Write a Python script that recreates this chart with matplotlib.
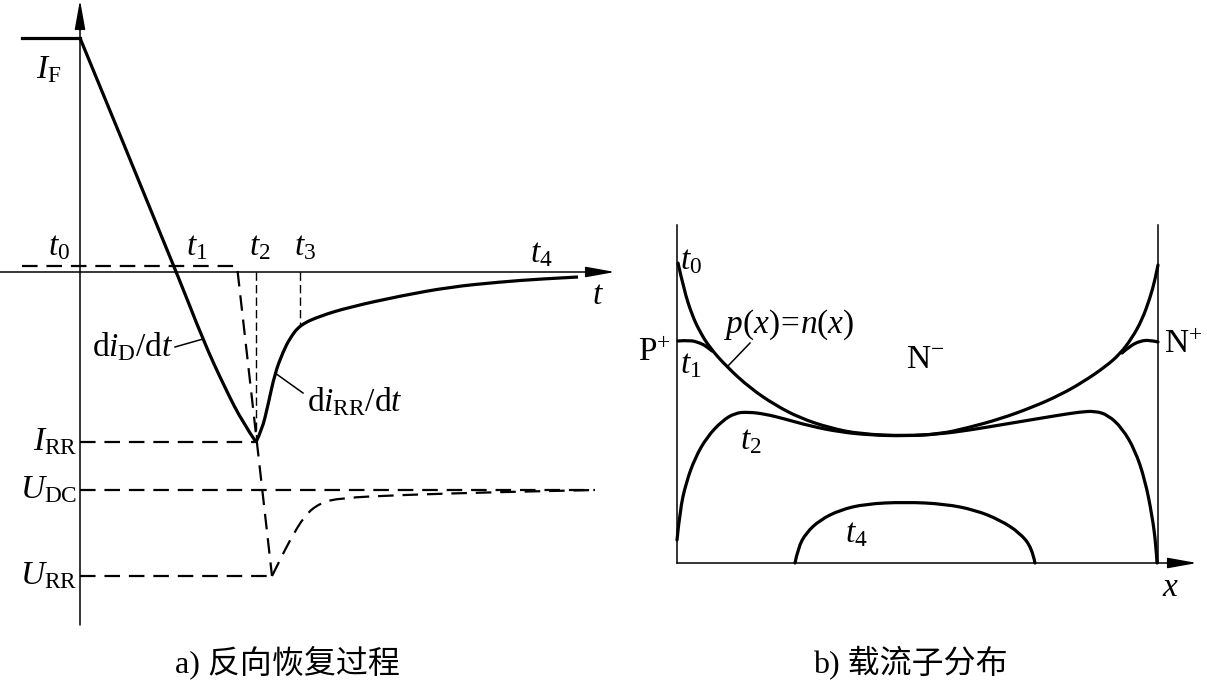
import numpy as np
import matplotlib.pyplot as plt
from matplotlib.path import Path
from matplotlib.patches import PathPatch

plt.rcParams['mathtext.fontset'] = 'custom'
plt.rcParams['mathtext.rm'] = 'Liberation Serif'
plt.rcParams['mathtext.it'] = 'Liberation Serif:italic'
plt.rcParams['font.family'] = ['Liberation Serif', 'Noto Sans CJK SC']

# ---- panel a) reverse recovery, picture pixel coords ----
i_fall_x = [80, 177, 203, 225, 243, 256]
i_fall_y = [38, 273, 340, 388, 423, 442]
i_rec_x = [256, 262, 268, 275, 283, 290, 300, 320, 350, 400, 450, 500, 540, 578]
i_rec_y = [442, 430, 405, 373, 352, 338, 325, 316, 307, 296, 287, 282, 279, 277]
i_f_x = [22, 80]
i_f_y = [38, 38]
u_x = [22, 237, 272, 280, 290, 305, 320, 340, 400, 500, 595]
u_y = [266, 266, 576, 560, 540, 515, 503, 498, 495, 492, 490]
ref_names = [r'$I_{\mathrm{RR}}$', r'$U_{\mathrm{DC}}$', r'$U_{\mathrm{RR}}$']
ref_y = [442, 490, 576]
ref_end = [256, 595, 272]
t_names = [r'$t_0$', r'$t_1$', r'$t_2$', r'$t_3$', r'$t_4$']
t_lx = [48, 186, 249, 294, 530]
t_ly = [247, 247, 247, 247, 254]
mark_x = [256, 300]
mark_y = [442, 325]

# ---- panel b) carrier distribution ----
p0_x = [678, 684, 692, 700, 710, 727, 750, 775, 800, 830, 860, 905, 940, 967,
        1000, 1033, 1060, 1083, 1105, 1120, 1132, 1142, 1150, 1155, 1158]
p0_y = [263, 290, 315, 332, 348, 367, 388, 405, 418, 428, 434, 436, 434, 428,
        419, 407, 395, 382, 367, 354, 338, 320, 298, 280, 265]
p1l_x = [678, 690, 700, 706, 712]
p1l_y = [341, 340, 343, 346, 351]
p1r_x = [1158, 1150, 1140, 1130, 1122]
p1r_y = [342, 340, 341, 346, 353]
p2_x = [677, 680, 686, 695, 707, 722, 735, 748, 765, 785, 810, 840, 870, 905,
        940, 970, 1000, 1030, 1060, 1080, 1095, 1108, 1122, 1135, 1145, 1152, 1156, 1157]
p2_y = [540, 510, 483, 458, 437, 421, 413, 412, 414, 419, 426, 432, 435, 436,
        434, 430, 425, 420, 415, 412, 411, 415, 428, 450, 480, 515, 545, 563]
p4_x = [795, 798, 806, 820, 840, 865, 905, 945, 975, 1000, 1020, 1032, 1035]
p4_y = [563, 548, 533, 520, 510, 504, 502, 504, 510, 520, 533, 548, 563]

fig = plt.figure(figsize=(12.07, 6.82), dpi=100)
ax = fig.add_axes([0, 0, 1, 1])
ax.set_xlim(0, 1207)
ax.set_ylim(682, 0)
ax.axis('off')

thick = 2.3
thin = 1.1
dash = dict(color='k', lw=1.6, dashes=(7, 4))
fs = 24
arrow = dict(arrowstyle='-|>,head_length=1.0,head_width=0.18', color='k',
             lw=thin, shrinkA=0, shrinkB=0, mutation_scale=18)


def smooth(xs, ys, **kw):
    # quadratic bezier through midpoints, read points act as control points
    pts = list(zip(xs, ys))
    verts = [pts[0]]
    codes = [Path.MOVETO]
    for i in range(1, len(pts) - 1):
        mid = ((pts[i][0] + pts[i + 1][0]) / 2, (pts[i][1] + pts[i + 1][1]) / 2)
        if i == len(pts) - 2:
            mid = pts[-1]
        verts += [pts[i], mid]
        codes += [Path.CURVE3, Path.CURVE3]
    if len(pts) == 2:
        verts.append(pts[1])
        codes.append(Path.LINETO)
    ax.add_patch(PathPatch(Path(verts, codes), fill=False, **kw))


# axes of panel a
ax.annotate('', xy=(80, 0), xytext=(80, 625), arrowprops=arrow)
ax.annotate('', xy=(615, 272), xytext=(0, 272), arrowprops=arrow)
ax.text(598, 296, r'$t$', fontsize=fs, ha='center', va='center')

ax.plot(i_f_x, i_f_y, color='k', lw=thick)
smooth(i_fall_x, i_fall_y, color='k', lw=thick, joinstyle='round')
smooth(i_rec_x, i_rec_y, color='k', lw=thick, joinstyle='round')
ax.plot(u_x[:3], u_y[:3], **dash)
smooth(u_x[2:], u_y[2:], color='k', lw=1.6, linestyle=(0, (7, 4)))
for name, y, x_end in zip(ref_names, ref_y, ref_end):
    ax.plot([80, x_end], [y, y], **dash)
    ax.text(77, y, name, fontsize=fs, ha='right', va='center')
for x, y in zip(mark_x, mark_y):
    ax.plot([x, x], [272, y], color='k', lw=1.0, dashes=(6, 3))
for name, x, y in zip(t_names, t_lx, t_ly):
    ax.text(x, y, name, fontsize=fs, ha='left', va='center')
ax.text(36, 70, r'$I_{\mathrm{F}}$', fontsize=fs, ha='left', va='center')

ax.plot([175, 203], [347, 339], color='k', lw=thin)
ax.text(174, 347, r'$\mathrm{d}i_{\mathrm{D}}/\mathrm{d}t$', fontsize=fs, ha='right', va='center')
ax.plot([275, 303], [373, 393], color='k', lw=thin)
ax.text(307, 402, r'$\mathrm{d}i_{\mathrm{RR}}/\mathrm{d}t$', fontsize=fs, ha='left', va='center')

# panel b
ax.plot([677, 677], [225, 563], color='k', lw=thin)
ax.plot([1158, 1158], [225, 563], color='k', lw=thin)
ax.annotate('', xy=(1197, 563), xytext=(677, 563), arrowprops=arrow)
ax.text(1170, 588, r'$x$', fontsize=fs, ha='center', va='center')
for xs, ys in [(p0_x, p0_y), (p1l_x, p1l_y), (p1r_x, p1r_y), (p2_x, p2_y), (p4_x, p4_y)]:
    smooth(xs, ys, color='k', lw=thick, joinstyle='round', capstyle='round')

ax.text(680, 261, r'$t_0$', fontsize=fs, ha='left', va='center')
ax.text(680, 365, r'$t_1$', fontsize=fs, ha='left', va='center')
ax.text(740, 441, r'$t_2$', fontsize=fs, ha='left', va='center')
ax.text(845, 534, r'$t_4$', fontsize=fs, ha='left', va='center')
ax.text(671, 353, r'$\mathrm{P}^{+}$', fontsize=fs, ha='right', va='center')
ax.text(1164, 345, r'$\mathrm{N}^{+}$', fontsize=fs, ha='left', va='center')
ax.text(925, 360, r'$\mathrm{N}^{-}$', fontsize=fs, ha='center', va='center')
ax.plot([727, 750], [367, 343], color='k', lw=thin)
ax.text(724, 325, r'$p(x)\!=\!n(x)$', fontsize=fs, ha='left', va='center')

cap = ['Liberation Serif', 'Noto Sans CJK SC']
ax.text(287, 662, 'a) 反向恢复过程', fontsize=23, ha='center', va='center', family=cap)
ax.text(910, 662, 'b) 载流子分布', fontsize=23, ha='center', va='center', family=cap)

fig.savefig('out.png', dpi=100, facecolor='white')
